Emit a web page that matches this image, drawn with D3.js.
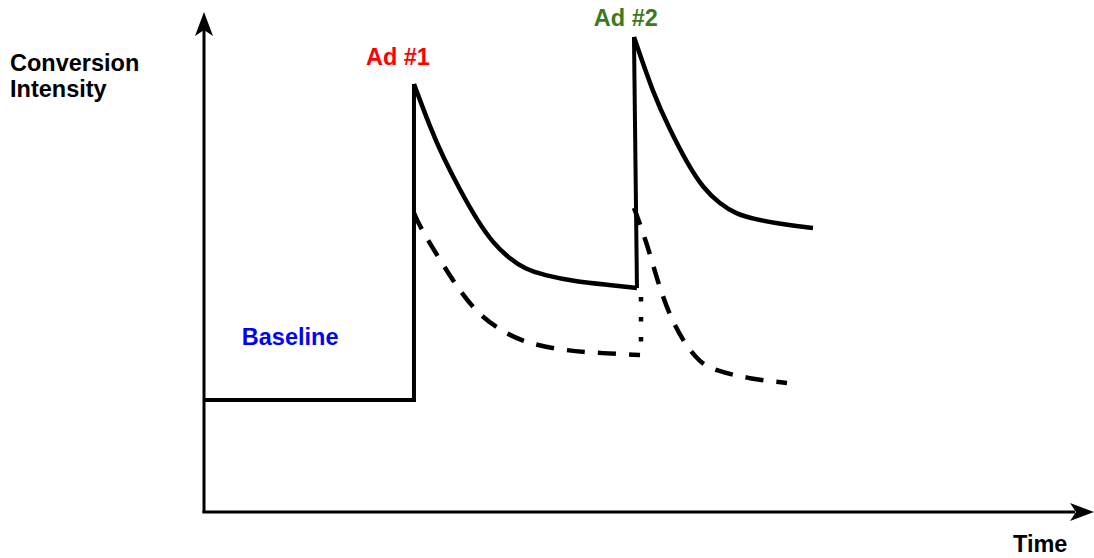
<!DOCTYPE html>
<html>
<head>
<meta charset="utf-8">
<script src="https://cdn.jsdelivr.net/npm/d3@7"></script>
<style>
  html, body { margin: 0; padding: 0; background: #fff; }
  svg { display: block; }
  text { font-family: "Liberation Sans", Arial, sans-serif; font-weight: bold; }
</style>
</head>
<body>
<svg id="chart" width="1094" height="558"></svg>
<script>
// ---- data (time, intensity) in abstract units ----
const baselineT = [0, 23.86];
const baselineV = [22.4, 22.4];

const ad1T = [23.86, 25.68, 27.16, 29.09, 31.02, 32.84, 34.77, 36.5, 38.52, 42.39, 46.14, 49.2];
const ad1V = [85.6, 77, 71, 64.4, 58.4, 53.8, 50.6, 48.6, 47.4, 46, 45.4, 44.8];

const ad2T = [48.86, 51.02, 52.95, 54.89, 56.7, 58.64, 60.5, 62.39, 66.25, 69.2];
const ad2V = [95, 83.8, 76.4, 69.8, 64.8, 61.6, 59.6, 58.6, 57.4, 56.8];

const noAd1T = [23.86, 24.55, 26.82, 28.75, 31.02, 33.64, 36.25, 40.45, 44.66, 49.55];
const noAd1V = [59.8, 57, 50.4, 45, 39.8, 36.4, 34, 32.4, 31.8, 31.4];

const noAd2T = [48.86, 50.34, 51.82, 53.3, 54.89, 56.36, 57.84, 62.05, 66.25];
const noAd2V = [60.8, 53.8, 44.4, 37.8, 33, 30, 28.4, 26.6, 25.8];

const carryT = [49.66, 49.66];
const carryV = [43, 31.4];

const labels = [
  { text: "Ad #1", t: 18.4, v: 89.4, color: "#ff0000" },
  { text: "Ad #2", t: 44.3, v: 97.2, color: "#3b7a1f" },
  { text: "Baseline", t: 4.3, v: 33.4, color: "#0000ff" }
];

// ---- scales ----
const svg = d3.select("#chart");
const x = d3.scaleLinear().domain([0, 100]).range([204, 1084]);
const y = d3.scaleLinear().domain([0, 100]).range([512, 12]);

const zip = (T, V) => T.map((t, i) => [t, V[i]]);
const lin = d3.line().x(d => x(d[0])).y(d => y(d[1]));
const smooth = d3.line().x(d => x(d[0])).y(d => y(d[1])).curve(d3.curveBasis);

// ---- axes with arrowheads ----
const ax = svg.append("g");
ax.append("line").attr("x1", x(0)).attr("y1", y(0) + 1).attr("x2", x(0)).attr("y2", 30)
  .attr("stroke", "#000").attr("stroke-width", 3);
ax.append("line").attr("x1", x(0) - 1.5).attr("y1", y(0)).attr("x2", 1075).attr("y2", y(0))
  .attr("stroke", "#000").attr("stroke-width", 3);
ax.append("path")
  .attr("d", `M${x(0)},12 L${x(0) + 9},36 L${x(0)},30 L${x(0) - 9},36 Z`)
  .attr("fill", "#000");
ax.append("path")
  .attr("d", `M1094,${y(0)} L1070,${y(0) + 9} L1076,${y(0)} L1070,${y(0) - 9} Z`)
  .attr("fill", "#000");

// ---- solid response (baseline, ad 1, ad 2) ----
const g = svg.append("g").attr("fill", "none").attr("stroke", "#000").attr("stroke-linejoin", "miter");

g.append("path")
  .attr("d", lin([...zip(baselineT, baselineV), [ad1T[0], ad1V[0]]]))
  .attr("stroke-width", 4);
g.append("path").attr("d", smooth(zip(ad1T, ad1V))).attr("stroke-width", 4.5);
g.append("path")
  .attr("d", lin([[ad1T[ad1T.length - 1], ad1V[ad1V.length - 1]], [ad2T[0], ad2V[0]]]))
  .attr("stroke-width", 4);
g.append("path").attr("d", smooth(zip(ad2T, ad2V))).attr("stroke-width", 4.5);

// ---- dashed decay without next ad ----
g.append("path").attr("d", smooth(zip(noAd1T, noAd1V)))
  .attr("stroke-width", 4.5).attr("stroke-dasharray", "18,13");
g.append("path").attr("d", smooth(zip(noAd2T, noAd2V)))
  .attr("stroke-width", 4.5).attr("stroke-dasharray", "18,13");

// ---- dotted carry-over ----
g.append("path").attr("d", lin(zip(carryT, carryV)))
  .attr("stroke-width", 4.5).attr("stroke-dasharray", "4.5,15.5");

// ---- text ----
svg.append("text").attr("x", 10).attr("y", 71).attr("font-size", 23.5).attr("fill", "#000").text("Conversion");
svg.append("text").attr("x", 10).attr("y", 97).attr("font-size", 23.5).attr("fill", "#000").text("Intensity");
svg.append("text").attr("x", 1013).attr("y", 552).attr("font-size", 23.5).attr("fill", "#000").text("Time");

svg.selectAll("text.lbl").data(labels).enter().append("text")
  .attr("class", "lbl")
  .attr("x", d => x(d.t))
  .attr("y", d => y(d.v))
  .attr("font-size", 23.5)
  .attr("fill", d => d.color)
  .text(d => d.text);
</script>
</body>
</html>
